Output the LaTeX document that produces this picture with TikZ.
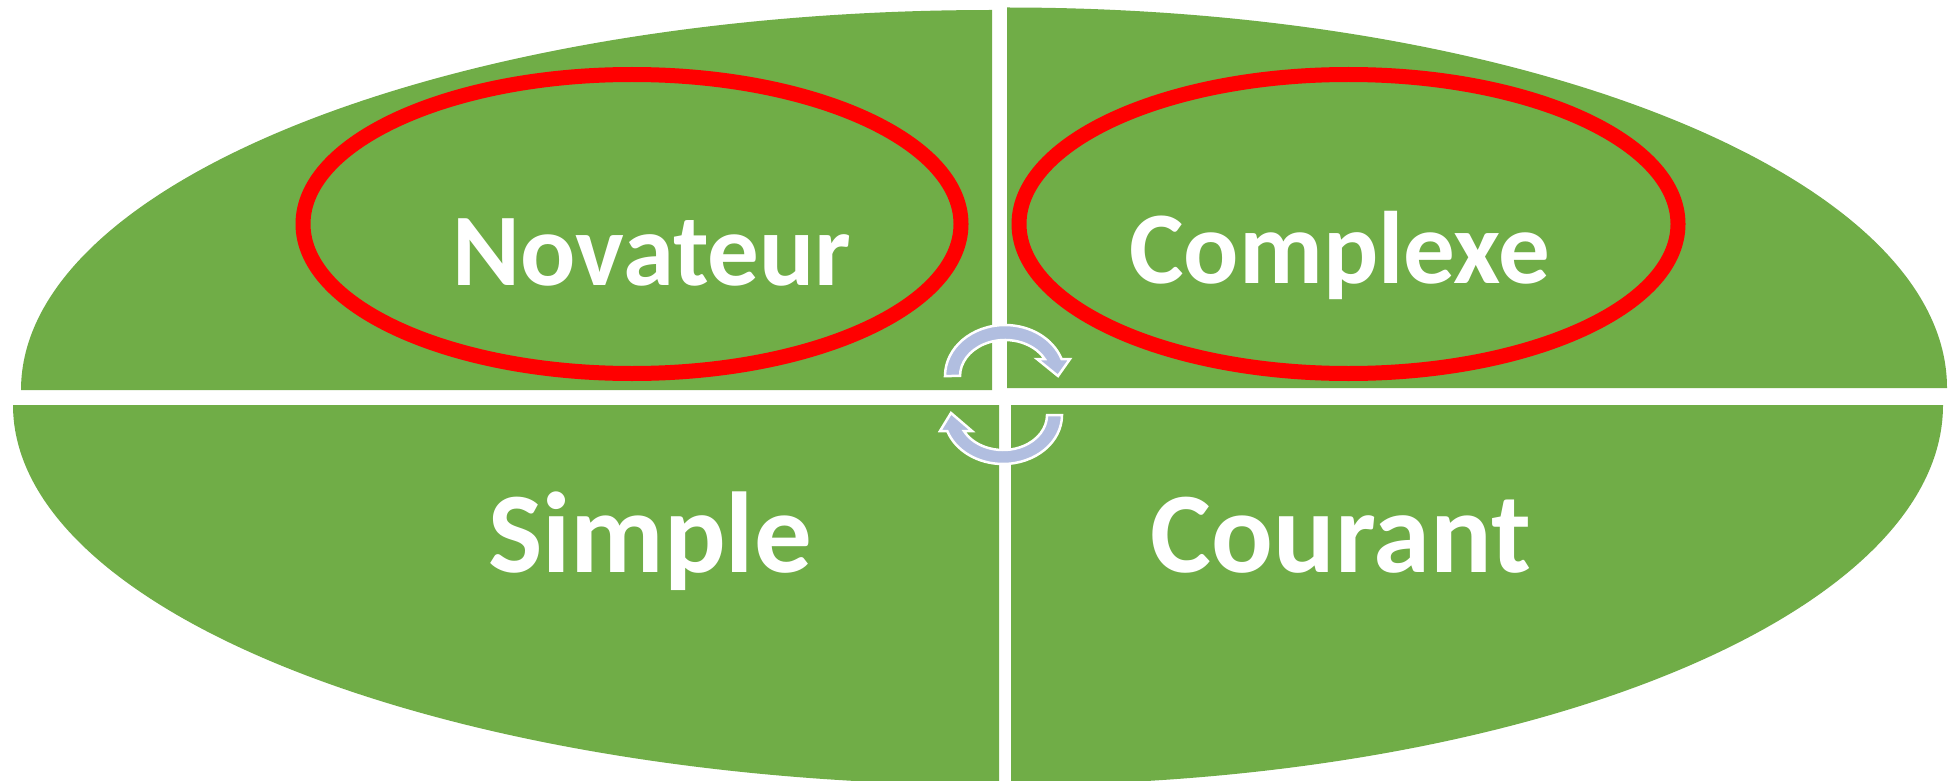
\documentclass[tikz,border=0pt]{standalone}
\usepackage{fontspec}
\setmainfont{Carlito}
\definecolor{grn}{HTML}{70AD47}
\definecolor{arw}{HTML}{B1BEE0}
\begin{document}
\begin{tikzpicture}[x=1pt,y=-1pt,
  quad/.style={fill=grn},
  ring/.style={draw=red,line width=15pt},
  cyc/.style={fill=arw,draw=white,line width=2.5pt,line join=miter},
  lbltop/.style={text=white,inner sep=0pt,anchor=base,font=\fontsize{103}{110}\selectfont\bfseries},
  lblbot/.style={text=white,inner sep=0pt,anchor=base,font=\fontsize{115}{120}\selectfont\bfseries}]
\useasboundingbox[fill=white] (0,0) rectangle (1949,781);
% quadrants
\fill[quad] (992,390) -- (21,390) arc[start angle=180,end angle=270,x radius=971,y radius=380] -- cycle;
\fill[quad] (1007,388) -- (1007,7.5) arc[start angle=270,end angle=360,x radius=940,y radius=380.5] -- cycle;
\fill[quad] (999,405) -- (13,405) arc[start angle=180,end angle=90,x radius=986,y radius=380] -- cycle;
\fill[quad] (1011,405) -- (1943,405) arc[start angle=0,end angle=90,x radius=932,y radius=380] -- cycle;
% red rings
\draw[ring] (632,224) ellipse[x radius=329,y radius=149.5];
\draw[ring] (1348.5,224) ellipse[x radius=329.5,y radius=149.5];
% cycle arrows
\draw[cyc] (945,376) arc[start angle=180,end angle=340.53,x radius=60,y radius=51]
  -- (1070,359) -- (1058,376) -- (1037,359) -- (1044.7,359)
  arc[start angle=331.83,end angle=180,x radius=45,y radius=36] -- cycle;
\draw[cyc] (1062,415) arc[start angle=0,end angle=160.94,x radius=59,y radius=49]
  -- (940,431) -- (951,413) -- (972,431) -- (963.9,431)
  arc[start angle=152.8,end angle=0,x radius=44,y radius=35] -- cycle;
% labels
\node[lbltop] (nov) at (652,285) {Novateur};
\node[lbltop] (cpx) at (1340,283) {Complexe};
\node[lblbot] (sim) at (650,572) {Simple};
\node[lblbot] (cou) at (1341,572) {Courant};
\end{tikzpicture}
\end{document}
